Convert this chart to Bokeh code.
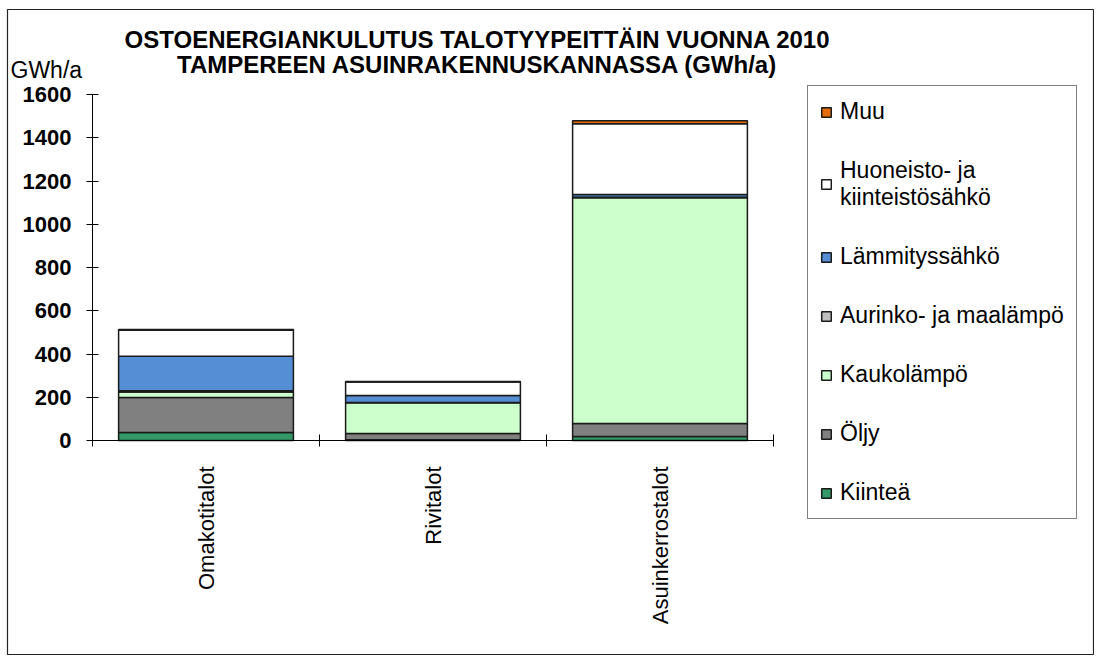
import math
from bokeh.plotting import figure
from bokeh.models import (FixedTicker, Legend, LegendItem, Label, ColumnDataSource)
from bokeh.embed import file_html
from bokeh.resources import INLINE

# ---- data ----
categories = ["Omakotitalot", "Rivitalot", "Asuinkerrostalot"]
series_names = ["Kiinteä", "Öljy", "Kaukolämpö", "Aurinko- ja maalämpö",
                "Lämmityssähkö", "Huoneisto- ja\nkiinteistösähkö", "Muu"]
kiintea = [37, 3, 18]
oljy = [162, 29, 61]
kaukolampo = [25, 142, 1043]
aurinko = [6, 2, 3]
lammityssahko = [160, 32, 12]
huoneisto = [120, 62, 328]
muu = [3, 3, 14]
colors = ["#339966", "#808080", "#CCFFCC", "#C0C0C0", "#558ED5", "#FFFFFF", "#E46C0A"]
y_ticks = [0, 200, 400, 600, 800, 1000, 1200, 1400, 1600]
y_max = 1600
title_lines = ["OSTOENERGIANKULUTUS TALOTYYPEITTÄIN VUONNA 2010",
               "TAMPEREEN ASUINRAKENNUSKANNASSA (GWh/a)"]
unit_text = "GWh/a"

FONT = "Liberation Sans"

# ---- layout geometry (page pixels) ----
W, H = 1094, 655
OFF_X, OFF_Y = 1, 1                 # page offset of the figure
FR_L, FR_T = 8, 10                  # outer chart frame
MB_L, MB_T, MB_R, MB_B = FR_L - OFF_X, FR_T - OFF_Y, 0, 0
FR_R = OFF_X + W - MB_R
FR_B = OFF_Y + H - MB_B
AX_L, AX_R = 93, 774                # value-axis area, horizontal
AX_T, AX_B = 95, 441                # value-axis area, vertical
n = len(categories)
sx = (AX_R - AX_L) / n
sy = (AX_B - AX_T) / y_max
def dx(px): return (px - AX_L) / sx
def dy(py): return (AX_B - py) / sy

xs = [i + 0.5 for i in range(n)]
keys = ["k", "o", "ka", "a", "l", "h", "m"]
src = ColumnDataSource(dict(x=xs, k=kiintea, o=oljy, ka=kaukolampo, a=aurinko,
                            l=lammityssahko, h=huoneisto, m=muu))

p = figure(width=W, height=H, output_backend="svg", toolbar_location=None,
           x_range=(dx(FR_L), dx(FR_R)), y_range=(dy(FR_B), dy(FR_T)),
           min_border_left=MB_L, min_border_top=MB_T, min_border_right=MB_R,
           min_border_bottom=MB_B)
p.outline_line_color = "#222222"
p.outline_line_width = 1.2
p.xgrid.visible = False
p.ygrid.visible = False
p.background_fill_color = "white"
p.border_fill_color = "white"
p.title.visible = False

renderers = p.vbar_stack(keys, x="x", width=0.77, source=src, color=colors,
                         line_color="#1a1a1a", line_width=1.5)

# y axis, fixed at x = 0
p.yaxis.fixed_location = 0
p.yaxis.bounds = (0, y_max)
p.yaxis.ticker = FixedTicker(ticks=y_ticks, minor_ticks=[])
p.yaxis.major_label_text_font = FONT
p.yaxis.major_label_text_font_size = "22px"
p.yaxis.major_label_text_font_style = "bold"
p.yaxis.major_label_text_color = "black"
p.yaxis.major_tick_in = 6
p.yaxis.major_tick_out = 6
p.yaxis.major_tick_line_color = "black"
p.yaxis.axis_line_color = "black"
p.yaxis.major_label_standoff = 15

# x axis, fixed at y = 0: labels at centres, tick marks at category boundaries
p.xaxis.fixed_location = 0
p.xaxis.bounds = (0, n)
p.xaxis.ticker = FixedTicker(ticks=xs, minor_ticks=list(range(n + 1)))
p.xaxis.major_label_overrides = {x: c for x, c in zip(xs, categories)}
p.xaxis.major_label_orientation = math.pi / 2
p.xaxis.major_label_text_font = FONT
p.xaxis.major_label_text_font_size = "22px"
p.xaxis.major_label_text_color = "black"
p.xaxis.major_tick_line_color = None
p.xaxis.major_tick_in = 0
p.xaxis.major_tick_out = 0
p.xaxis.minor_tick_in = 6
p.xaxis.minor_tick_out = 6
p.xaxis.minor_tick_line_color = "black"
p.xaxis.axis_line_color = "black"
p.xaxis.major_label_standoff = 20

# title lines and unit
for line, base in zip(title_lines, [40, 65]):
    p.add_layout(Label(x=dx(478), y=dy(base), text=line, text_font=FONT,
                       text_font_size="24px", text_font_style="bold",
                       text_color="black", text_align="center",
                       text_baseline="alphabetic"))
p.add_layout(Label(x=dx(11), y=dy(70), text=unit_text, text_font=FONT,
                   text_font_size="23px", text_color="black",
                   text_baseline="alphabetic"))

items = [LegendItem(label=s, renderers=[r]) for s, r in zip(series_names, renderers)][::-1]
legend = Legend(items=items, location=(808 - FR_L, FR_B - 520), orientation="vertical",
                label_text_font=FONT, label_text_font_size="23px",
                label_text_color="black", glyph_width=12, glyph_height=12,
                label_standoff=8, padding=12, spacing=32, label_height=25,
                border_line_color="black", border_line_width=1.5,
                background_fill_alpha=1.0, margin=0)
p.add_layout(legend, "center")

open("out.html", "w").write(file_html(p, INLINE))
